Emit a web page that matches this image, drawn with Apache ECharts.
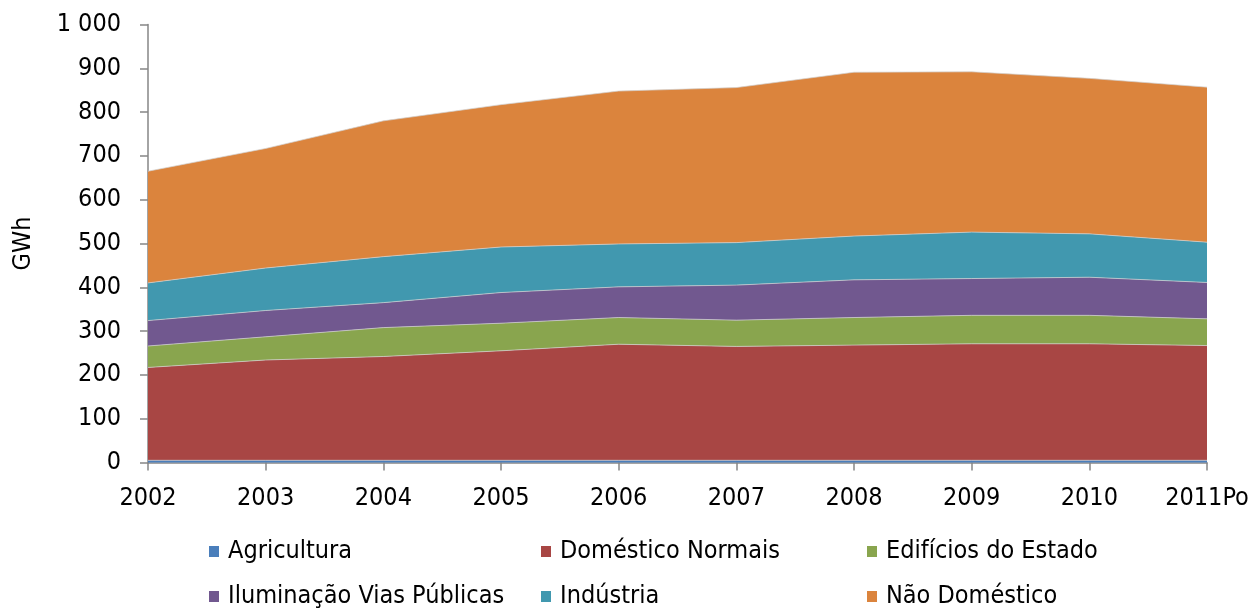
<!DOCTYPE html>
<html>
<head>
<meta charset="utf-8">
<style>
  html, body { margin: 0; padding: 0; background: #ffffff; }
  #chart { width: 1253px; height: 608px; }
</style>
<script src="https://cdn.jsdelivr.net/npm/echarts@6/dist/echarts.min.js"></script>
</head>
<body>
<div id="chart"></div>
<script>
// Consumo de electricidade por sector (GWh)
const years = ['2002', '2003', '2004', '2005', '2006', '2007', '2008', '2009', '2010', '2011Po'];
const agricultura      = [5, 5, 5, 5, 5, 5, 5, 5, 5, 5];
const domesticoNormais = [212, 229, 237, 250, 265, 260, 263, 266, 266, 262];
const edificiosEstado  = [49, 53, 66, 63, 61, 60, 63, 65, 65, 61];
const iluminacaoVias   = [58, 60, 57, 70, 70, 80, 86, 84, 87, 83];
const industria        = [86, 97, 105, 104, 98, 97, 100, 106, 99, 92];
const naoDomestico     = [255, 273, 310, 325, 349, 354, 374, 366, 355, 354];
const yTicks = [0, 100, 200, 300, 400, 500, 600, 700, 800, 900, 1000];

const FONT = '"DejaVu Sans Condensed", "DejaVu Sans", sans-serif';
const FS = 25;

const seriesDefs = [
  { name: 'Agricultura', data: agricultura, color: '#4a7ebb' },
  { name: 'Doméstico Normais', data: domesticoNormais, color: '#a84644' },
  { name: 'Edifícios do Estado', data: edificiosEstado, color: '#89a54e' },
  { name: 'Iluminação Vias Públicas', data: iluminacaoVias, color: '#71588f' },
  { name: 'Indústria', data: industria, color: '#4198af' },
  { name: 'Não Doméstico', data: naoDomestico, color: '#db843d' }
];

const fmtThousands = v => String(v).replace(/\B(?=(\d{3})+(?!\d))/g, ' ');

// legend laid out as a 3-column grid, one entry per component
const legendSlots = [
  [209, 539], [541, 539], [867, 539],
  [209, 584], [541, 584], [867, 584]
];
const legends = seriesDefs.map((s, i) => ({
  data: [s.name],
  left: legendSlots[i][0],
  top: legendSlots[i][1],
  padding: 0,
  itemWidth: 10,
  itemHeight: 11,
  itemGap: 0,
  icon: 'rect',
  textStyle: { fontFamily: FONT, fontSize: FS, color: '#000', padding: [0, 0, 0, 4] },
  selectedMode: false
}));

const chart = echarts.init(document.getElementById('chart'), null, { renderer: 'canvas' });
chart.setOption({
  animation: false,
  textStyle: { fontFamily: FONT },
  grid: { left: 148, right: 46, top: 24.5, bottom: 145.5 },
  legend: legends,
  xAxis: {
    type: 'category',
    data: years,
    boundaryGap: false,
    axisLine: { lineStyle: { color: '#868686', width: 1.5 } },
    axisTick: { show: true, length: 8, lineStyle: { color: '#868686', width: 1.5 } },
    axisLabel: { color: '#000', fontFamily: FONT, fontSize: FS, margin: 23 },
    splitLine: { show: false }
  },
  yAxis: {
    type: 'value',
    min: yTicks[0],
    max: yTicks[yTicks.length - 1],
    interval: 100,
    name: 'GWh',
    nameLocation: 'middle',
    nameGap: 112,
    nameRotate: 90,
    nameTextStyle: { color: '#000', fontFamily: FONT, fontSize: 25 },
    axisLine: { show: true, lineStyle: { color: '#868686', width: 1.5 } },
    axisTick: { show: true, length: 8, lineStyle: { color: '#868686', width: 1.5 } },
    axisLabel: { color: '#000', fontFamily: FONT, fontSize: FS, margin: 27, formatter: v => fmtThousands(v) },
    splitLine: { show: false }
  },
  series: seriesDefs.map(s => ({
    name: s.name,
    type: 'line',
    stack: 'total',
    data: s.data,
    symbol: 'none',
    itemStyle: { color: s.color },
    lineStyle: { width: 1, color: 'rgba(210,210,210,0.7)' },
    areaStyle: { color: s.color, opacity: 1 },
    emphasis: { disabled: true }
  }))
});
</script>
</body>
</html>
